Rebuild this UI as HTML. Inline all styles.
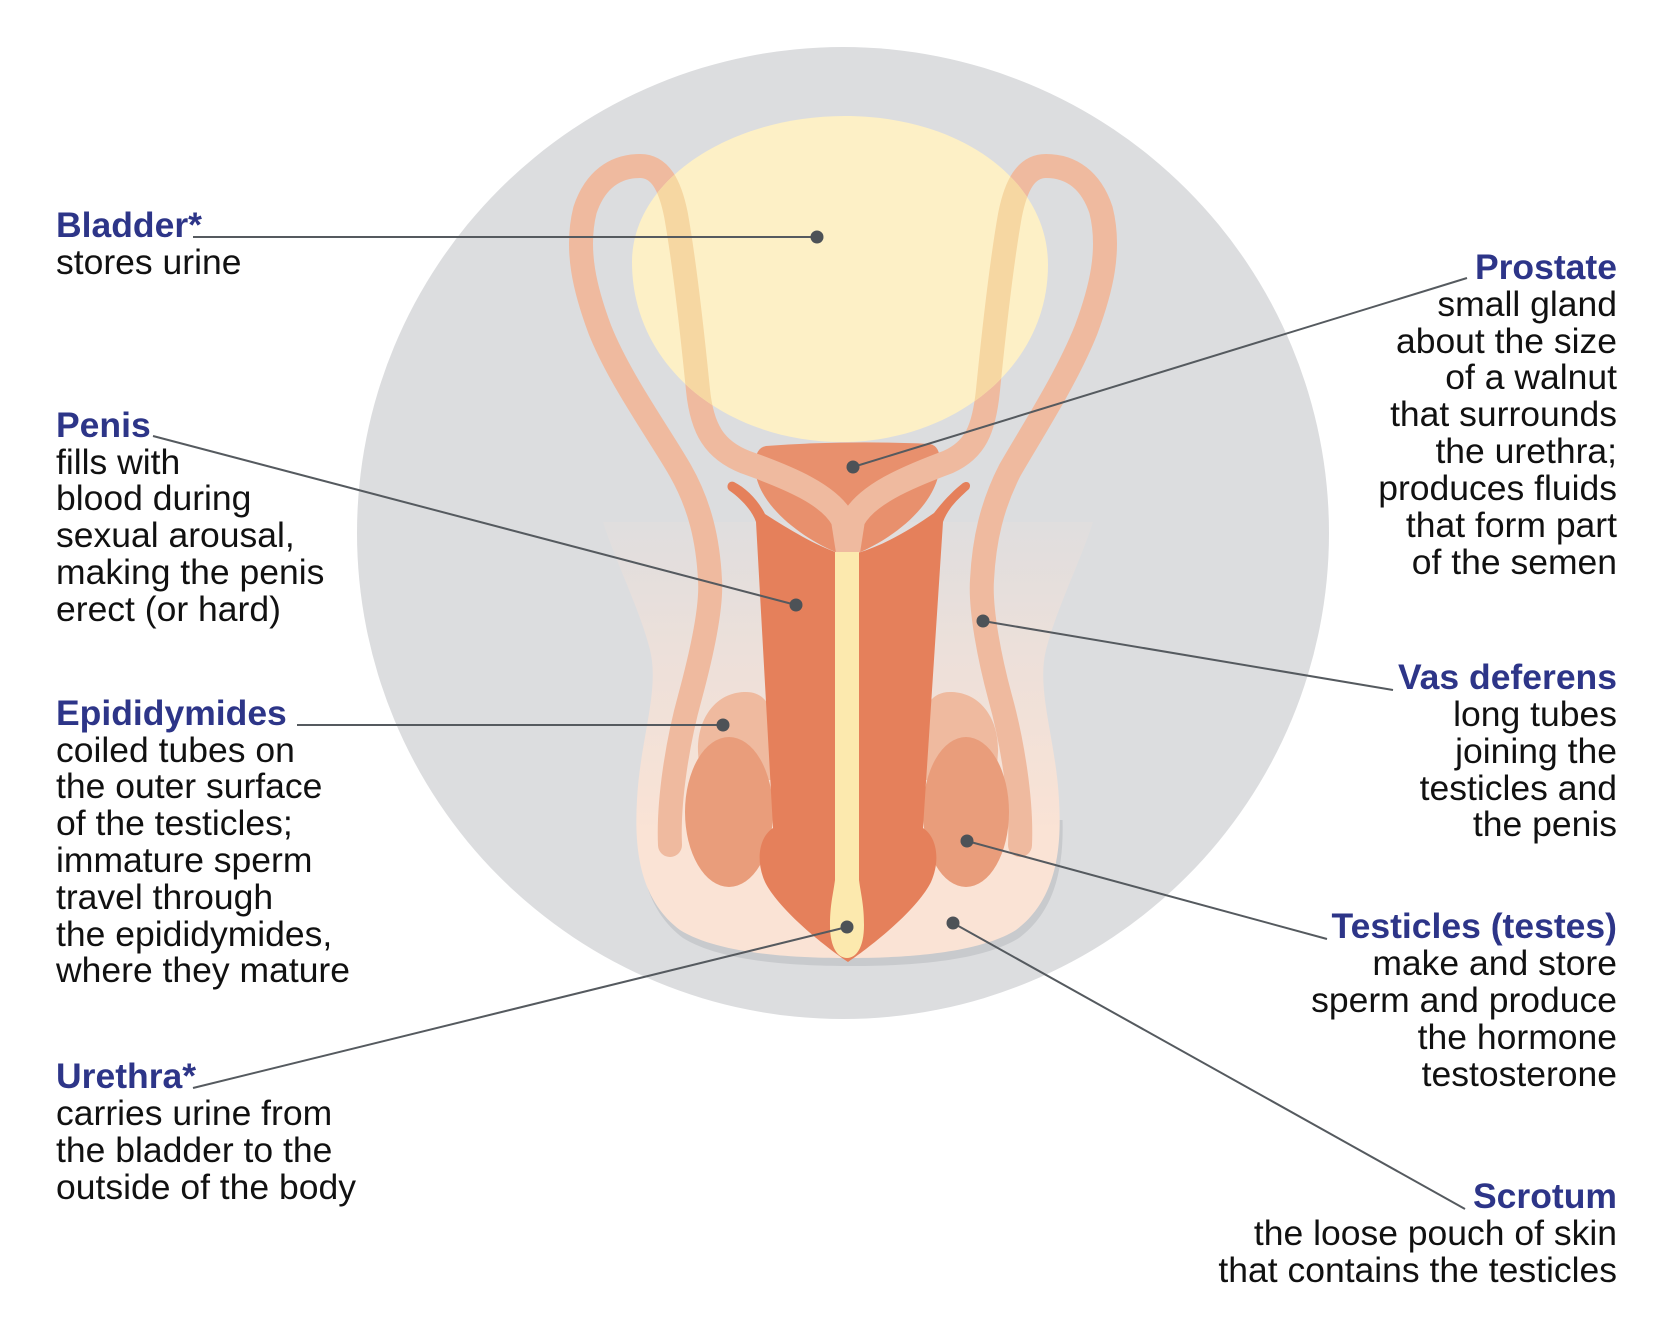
<!DOCTYPE html>
<html>
<head>
<meta charset="utf-8">
<style>
  html, body { margin:0; padding:0; background:#ffffff; }
  body { width:1680px; height:1333px; overflow:hidden; }
  svg { display:block; }
  .h { font-family: "Liberation Sans", Arial, sans-serif; font-weight:bold; font-size:35.5px; fill:#2D3588; }
  .b { font-family: "Liberation Sans", Arial, sans-serif; font-size:35.5px; fill:#111111; }
</style>
</head>
<body>
<svg width="1680" height="1333" viewBox="0 0 1680 1333" xmlns="http://www.w3.org/2000/svg">
  <defs>
    <linearGradient id="scr" x1="0" y1="515" x2="0" y2="830" gradientUnits="userSpaceOnUse">
      <stop offset="0" stop-color="#F6E2D8" stop-opacity="0.12"/>
      <stop offset="0.45" stop-color="#F8E2D6" stop-opacity="0.6"/>
      <stop offset="1" stop-color="#FAE3D5" stop-opacity="1"/>
    </linearGradient>
    <clipPath id="bladClip">
      <path d="M845,116 C960,116 1048,180 1048,265 C1048,370 950,442 842,442 C730,442 632,370 632,262 C632,180 730,116 845,116 Z"/>
    </clipPath>
    <clipPath id="lowClip">
      <rect x="0" y="820" width="1680" height="300"/>
    </clipPath>
  </defs>

  <!-- background circle -->
  <circle cx="843" cy="533" r="486" fill="#DCDDDF"/>

  <!-- scrotum shadow -->
  <g clip-path="url(#lowClip)">
    <path transform="translate(3,8)" fill="#C8CACD" d="M603,522 C615,560 640,610 650,650 C660,690 640,740 637,800 C634,850 640,900 680,930 C720,955 800,958 848,958 C896,958 976,955 1016,930 C1056,900 1062,850 1059,800 C1056,740 1036,690 1046,650 C1056,610 1081,560 1093,522 Z"/>
  </g>
  <!-- scrotum -->
  <path fill="url(#scr)" d="M603,522 C615,560 640,610 650,650 C660,690 640,740 637,800 C634,850 640,900 680,930 C720,955 800,958 848,958 C896,958 976,955 1016,930 C1056,900 1062,850 1059,800 C1056,740 1036,690 1046,650 C1056,610 1081,560 1093,522 Z"/>

  <!-- prostate -->
  <path fill="#E8906D" d="M766,446 Q848,440 930,444 Q940,446 940,462 C940,505 890,540 858,553 L838,553 C805,540 755,505 755,466 Q755,448 766,446 Z"/>

  <!-- vas deferens tubes -->
  <g fill="none" stroke="#EFBA9F" stroke-width="24" stroke-linecap="round" stroke-linejoin="round">
    <path d="M670,845 C668,800 678,740 690,697 C700,660 712,610 710,580 C708,540 700,505 680,470 C660,435 620,380 600,330 C585,290 575,250 585,210 C595,180 615,166 640,166 C660,166 670,185 676,215 C684,260 692,330 698,390 C702,430 715,450 745,462 C790,478 830,495 843,520 L848,552"/>
    <path d="M1020,845 C1022,800 1012,740 1000,697 C990,660 980,610 982,580 C984,540 992,505 1010,470 C1030,435 1066,380 1086,330 C1101,290 1111,250 1101,210 C1091,180 1071,166 1046,166 C1026,166 1016,185 1010,215 C1002,260 994,330 988,390 C984,430 975,450 948,462 C905,478 866,495 853,520 L848,552"/>
  </g>

  <!-- bladder -->
  <path fill="#FDF0C6" d="M845,116 C960,116 1048,180 1048,265 C1048,370 950,442 842,442 C730,442 632,370 632,262 C632,180 730,116 845,116 Z"/>
  <!-- tubes seen through bladder -->
  <g clip-path="url(#bladClip)" fill="none" stroke="#F6D7A2" stroke-width="24" stroke-linecap="round" stroke-linejoin="round">
    <path d="M670,845 C668,800 678,740 690,697 C700,660 712,610 710,580 C708,540 700,505 680,470 C660,435 620,380 600,330 C585,290 575,250 585,210 C595,180 615,166 640,166 C660,166 670,185 676,215 C684,260 692,330 698,390 C702,430 715,450 745,462 C790,478 830,495 843,520 L848,552"/>
    <path d="M1020,845 C1022,800 1012,740 1000,697 C990,660 980,610 982,580 C984,540 992,505 1010,470 C1030,435 1066,380 1086,330 C1101,290 1111,250 1101,210 C1091,180 1071,166 1046,166 C1026,166 1016,185 1010,215 C1002,260 994,330 988,390 C984,430 975,450 948,462 C905,478 866,495 853,520 L848,552"/>
  </g>

  <!-- epididymis heads -->
  <path fill="#EFBA9F" d="M698,752 C697,718 716,693 744,692 C764,691 772,706 772,722 L772,780 L700,780 Z"/>
  <path fill="#EFBA9F" d="M998,752 C999,718 980,693 952,692 C932,691 924,706 924,722 L924,780 L996,780 Z"/>

  <!-- testicles -->
  <ellipse cx="729" cy="812" rx="44" ry="75" fill="#E99D7B"/>
  <ellipse cx="966" cy="812" rx="43" ry="75" fill="#E99D7B"/>

  <!-- penis shaft + glans -->
  <path fill="#E5805B" d="M734,482 C746,488 758,500 765,514 C790,530 815,545 838,553 L858,553 C884,545 910,530 934,513 C944,500 954,490 963,483 C968,480 972,484 969,489 C958,499 948,508 943,522 L923,828 C938,838 940,862 931,882 C916,912 866,950 848,962 C830,950 780,912 765,882 C756,862 758,838 773,828 L756,522 C752,510 740,498 730,491 C725,488 728,480 734,482 Z"/>

  <!-- urethra -->
  <path fill="#FCE9AE" d="M835,552 L859,552 L859,880 C861,895 864,905 864,925 C864,948 856,958 847,958 C838,958 830,948 830,925 C830,905 833,895 835,880 Z"/>

  <!-- connector lines -->
  <g stroke="#555A5F" stroke-width="2" fill="none">
    <line x1="193" y1="237" x2="817" y2="237"/>
    <line x1="153" y1="436" x2="796" y2="605"/>
    <line x1="297" y1="725" x2="723" y2="725"/>
    <line x1="193" y1="1088" x2="847" y2="927"/>
    <line x1="1467" y1="278" x2="853" y2="467"/>
    <line x1="1393" y1="690" x2="983" y2="621"/>
    <line x1="1327" y1="939" x2="967" y2="841"/>
    <line x1="1465" y1="1209" x2="953" y2="923"/>
  </g>
  <g fill="#4D5257">
    <circle cx="817" cy="237" r="6.5"/>
    <circle cx="796" cy="605" r="6.5"/>
    <circle cx="723" cy="725" r="6.5"/>
    <circle cx="847" cy="927" r="6.5"/>
    <circle cx="853" cy="467" r="6.5"/>
    <circle cx="983" cy="621" r="6.5"/>
    <circle cx="967" cy="841" r="6.5"/>
    <circle cx="953" cy="923" r="6.5"/>
  </g>

  <!-- LEFT LABELS -->
  <text class="h" x="56" y="237">Bladder*</text>
  <text class="b" x="56" y="274">stores urine</text>

  <text class="h" x="56" y="437">Penis</text>
  <text class="b" x="56" y="474">fills with</text>
  <text class="b" x="56" y="510">blood during</text>
  <text class="b" x="56" y="547">sexual arousal,</text>
  <text class="b" x="56" y="584">making the penis</text>
  <text class="b" x="56" y="621">erect (or hard)</text>

  <text class="h" x="56" y="725">Epididymides</text>
  <text class="b" x="56" y="762">coiled tubes on</text>
  <text class="b" x="56" y="798">the outer surface</text>
  <text class="b" x="56" y="835">of the testicles;</text>
  <text class="b" x="56" y="872">immature sperm</text>
  <text class="b" x="56" y="909">travel through</text>
  <text class="b" x="56" y="946">the epididymides,</text>
  <text class="b" x="56" y="982">where they mature</text>

  <text class="h" x="56" y="1088">Urethra*</text>
  <text class="b" x="56" y="1125">carries urine from</text>
  <text class="b" x="56" y="1162">the bladder to the</text>
  <text class="b" x="56" y="1199">outside of the body</text>

  <!-- RIGHT LABELS -->
  <g text-anchor="end">
    <text class="h" x="1617" y="279">Prostate</text>
    <text class="b" x="1617" y="316">small gland</text>
    <text class="b" x="1617" y="353">about the size</text>
    <text class="b" x="1617" y="389">of a walnut</text>
    <text class="b" x="1617" y="426">that surrounds</text>
    <text class="b" x="1617" y="463">the urethra;</text>
    <text class="b" x="1617" y="500">produces fluids</text>
    <text class="b" x="1617" y="537">that form part</text>
    <text class="b" x="1617" y="574">of the semen</text>

    <text class="h" x="1617" y="689">Vas deferens</text>
    <text class="b" x="1617" y="726">long tubes</text>
    <text class="b" x="1617" y="763">joining the</text>
    <text class="b" x="1617" y="800">testicles and</text>
    <text class="b" x="1617" y="836">the penis</text>

    <text class="h" x="1617" y="938">Testicles (testes)</text>
    <text class="b" x="1617" y="975">make and store</text>
    <text class="b" x="1617" y="1012">sperm and produce</text>
    <text class="b" x="1617" y="1049">the hormone</text>
    <text class="b" x="1617" y="1086">testosterone</text>

    <text class="h" x="1617" y="1208">Scrotum</text>
    <text class="b" x="1617" y="1245">the loose pouch of skin</text>
    <text class="b" x="1617" y="1282">that contains the testicles</text>
  </g>
</svg>
</body>
</html>
